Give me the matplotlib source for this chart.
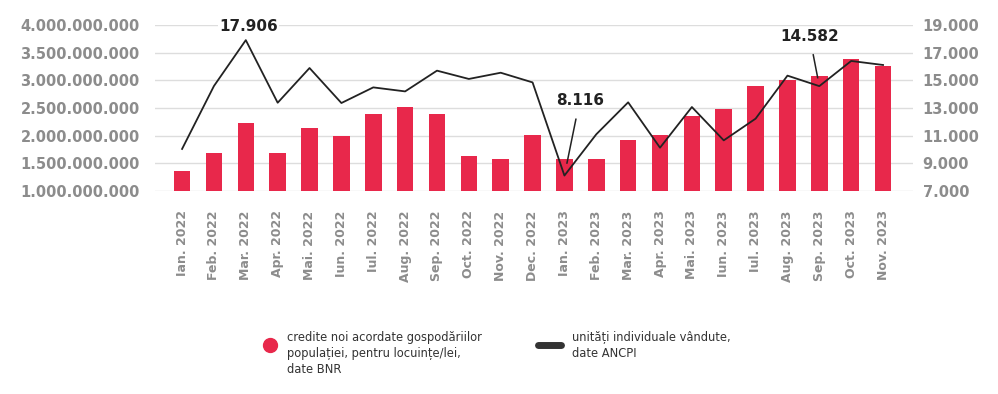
import numpy as np
import matplotlib.pyplot as plt
from matplotlib.lines import Line2D

months = ['Ian. 2022', 'Feb. 2022', 'Mar. 2022', 'Apr. 2022', 'Mai. 2022', 'Iun. 2022',
          'Iul. 2022', 'Aug. 2022', 'Sep. 2022', 'Oct. 2022', 'Nov. 2022', 'Dec. 2022',
          'Ian. 2023', 'Feb. 2023', 'Mar. 2023', 'Apr. 2023', 'Mai. 2023', 'Iun. 2023',
          'Iul. 2023', 'Aug. 2023', 'Sep. 2023', 'Oct. 2023', 'Nov. 2023']

# credite noi (lei), axa stanga
credite = [1.37e9, 1.68e9, 2.22e9, 1.69e9, 2.13e9, 1.99e9,
           2.39e9, 2.51e9, 2.40e9, 1.64e9, 1.58e9, 2.01e9,
           1.58e9, 1.58e9, 1.92e9, 2.02e9, 2.35e9, 2.49e9,
           2.90e9, 3.01e9, 3.08e9, 3.39e9, 3.26e9]

# unitati vandute, axa dreapta
unitati = [10040, 14590, 17906, 13380, 15890, 13360,
           14490, 14200, 15700, 15100, 15550, 14850,
           8116, 11100, 13410, 10130, 13070, 10660,
           12230, 15340, 14582, 16400, 16110]

left_ticks = [1e9, 1.5e9, 2e9, 2.5e9, 3e9, 3.5e9, 4e9]
right_ticks = [7000, 9000, 11000, 13000, 15000, 17000, 19000]

red = '#e8284b'
gray = '#8c8c8c'
dark = '#222222'


def fmt(v):
    return f'{int(v):,}'.replace(',', '.')


fig = plt.figure(figsize=(9.98, 3.94), dpi=100)
ax = fig.add_axes([155/998, 1-191/394, (913-155)/998, (191-25)/394])
ax2 = ax.twinx()

x = np.arange(len(months))
ax.bar(x, np.array(credite) - 1e9, bottom=1e9, width=0.52, color=red, zorder=3)
ax.set_ylim(1e9, 4e9)
ax.set_xlim(-0.85, 22.94)
ax.set_yticks(left_ticks)
ax.set_yticklabels([fmt(v) for v in left_ticks], fontsize=10.5, fontweight='bold', color=gray)
ax.set_xticks(x)
ax.set_xticklabels(months, rotation=90, fontsize=9, fontweight='bold', color=gray)
ax.tick_params(axis='both', length=0)
ax.tick_params(axis='y', pad=11)
ax.tick_params(axis='x', pad=14)
ax.grid(axis='y', color='#dddddd', linewidth=1, zorder=0)
ax.set_axisbelow(True)

ax2.plot(x, unitati, color=dark, linewidth=1.3, zorder=4)
ax2.set_ylim(7000, 19000)
ax2.set_yticks(right_ticks)
ax2.set_yticklabels([fmt(v) for v in right_ticks], fontsize=10.5, fontweight='bold', color=gray)
ax2.tick_params(axis='y', length=0, pad=7)

for a in (ax, ax2):
    for s in a.spines.values():
        s.set_visible(False)

# etichete
ax2.annotate('17.906', xy=(2, unitati[2]), xytext=(2, 10), textcoords='offset points',
             ha='center', va='center', fontsize=11, fontweight='bold', color=dark,
             bbox=dict(facecolor='white', edgecolor='none', pad=1), annotation_clip=False)
ax2.annotate('8.116', xy=(12, unitati[12]), xytext=(11, 54), textcoords='offset points',
             ha='center', va='center', fontsize=11, fontweight='bold', color=dark,
             arrowprops=dict(arrowstyle='-', color=dark, lw=1.1, shrinkA=6, shrinkB=9))
ax2.annotate('14.582', xy=(20, unitati[20]), xytext=(-7, 36), textcoords='offset points',
             ha='center', va='center', fontsize=11, fontweight='bold', color=dark,
             arrowprops=dict(arrowstyle='-', color=dark, lw=1.1, shrinkA=6, shrinkB=6))

# legenda
fig.add_artist(Line2D([270/998], [1-345/394], marker='o', markersize=10, color=red,
                      linestyle='none', transform=fig.transFigure))
fig.text(287/998, 1-331/394, 'credite noi acordate gospodăriilor\npopulației, pentru locuințe/lei,\ndate BNR',
         fontsize=8.3, color='#333333', va='top', ha='left', linespacing=1.3)
fig.add_artist(Line2D([538/998, 561/998], [1-345/394, 1-345/394], color='#333333',
                      linewidth=5, solid_capstyle='round', transform=fig.transFigure))
fig.text(572/998, 1-331/394, 'unități individuale vândute,\ndate ANCPI',
         fontsize=8.3, color='#333333', va='top', ha='left', linespacing=1.3)

fig.savefig('out.png', dpi=100)
